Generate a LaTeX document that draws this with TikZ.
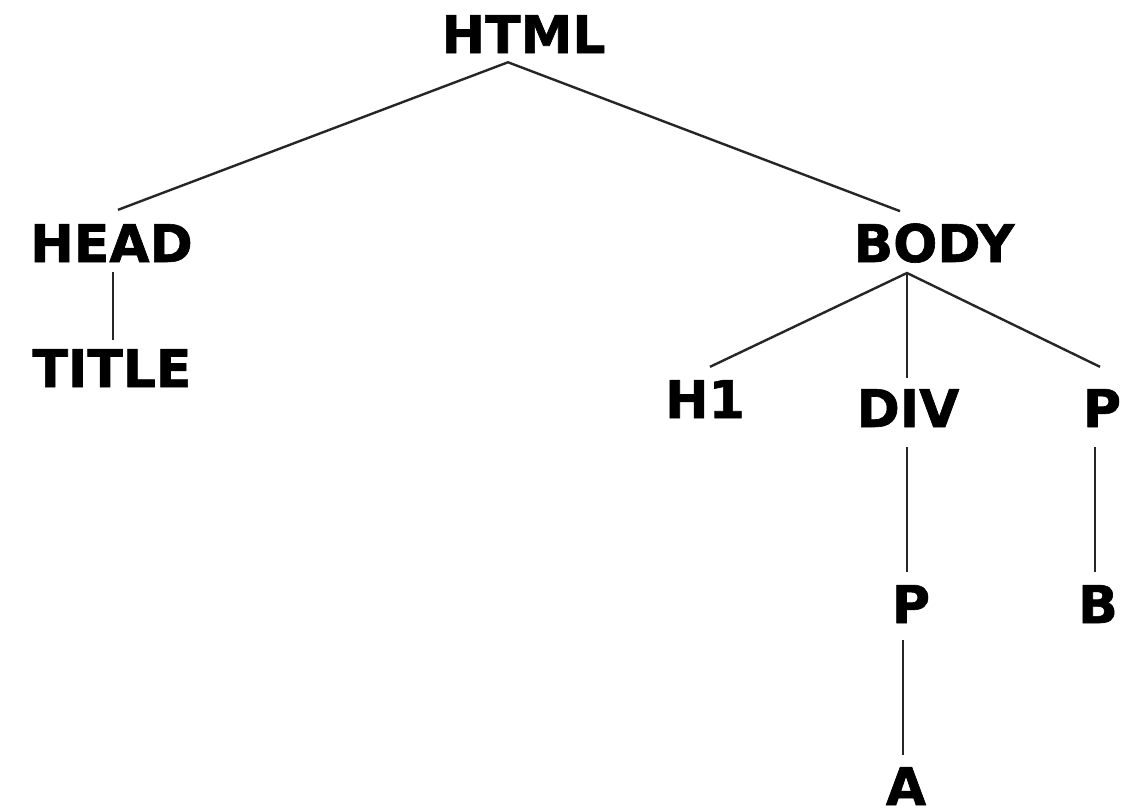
\documentclass[tikz,border=0pt]{standalone}
\usepackage{fontspec}
\setmainfont{DejaVu Sans}
\newfontfamily\tagfont{DejaVu Sans}[FakeBold=1.2]
\usetikzlibrary{calc}
\begin{document}
\begin{tikzpicture}[x=0.75pt,y=-0.75pt,
  tag/.style={inner sep=0pt,anchor=base,font=\fontsize{39}{47}\tagfont\bfseries},
  link/.style={line width=1.8pt,draw=black!85}]
\useasboundingbox[fill=white] (0,0) rectangle (1138,807);
\node[tag] (html)  at (523.5,53) {HTML};
\node[tag] (head)  at (111.5,262) {HEAD};
\node[tag] (title) at (112,387) {TITLE};
\node[tag] (body)  at (934,262) {BODY};
\node[tag] (h1)    at (705,418) {H1};
\node[tag] (div)   at (908,427) {DIV};
\node[tag] (p1)    at (1102,427) {P};
\node[tag] (p2)    at (911,623) {P};
\node[tag] (b)     at (1098,623) {B};
\node[tag] (a)     at (906,805) {A};
\draw[link] ($(head.north)+(6.5,-14)$) -- ($(html.south)+(-15.5,9)$) -- ($(body.north)+(-34,-12)$);
\draw[link] ($(head.south)+(1.5,10)$) -- ($(title.north)+(1,-9)$);
\draw[link] ($(h1.north)+(5,-13)$) -- ($(body.south)+(-27,10)$) -- ($(p1.north)+(-2,-22)$);
\draw[link] ($(body.south)+(-27,10)$) -- ($(div.north)+(-1,-11)$);
\draw[link] ($(div.south)+(-1,20)$) -- ($(p2.north)+(-4,-13)$);
\draw[link] ($(p1.south)+(-7,20)$) -- ($(b.north)+(-3,-13)$);
\draw[link] ($(p2.south)+(-8,17)$) -- ($(a.north)+(-3,-12)$);
\end{tikzpicture}
\end{document}
